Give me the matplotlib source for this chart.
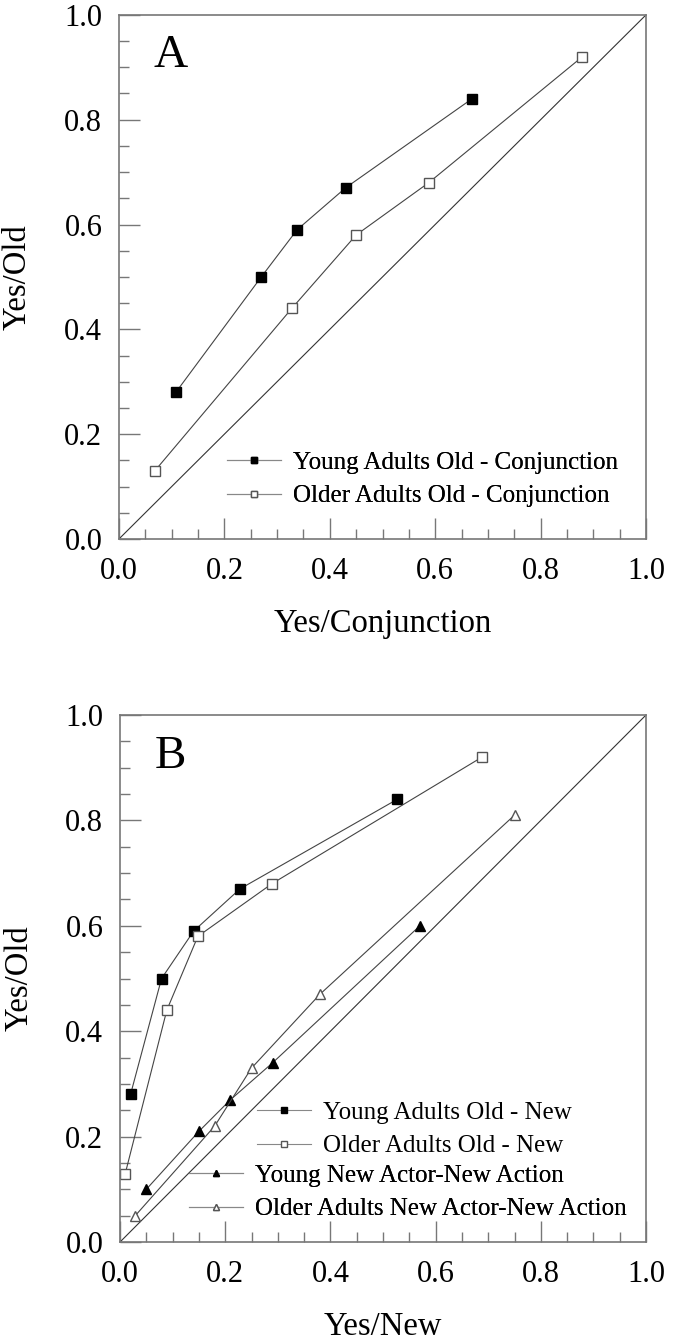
import matplotlib
matplotlib.use("Agg")
import matplotlib.pyplot as plt
from matplotlib.ticker import MultipleLocator


# panel A: Yes/Conjunction vs Yes/Old
young_conj_x = [0.108, 0.27, 0.338, 0.43, 0.67]
young_conj_y = [0.28, 0.50, 0.59, 0.67, 0.84]
older_conj_x = [0.068, 0.328, 0.45, 0.588, 0.879]
older_conj_y = [0.13, 0.44, 0.58, 0.68, 0.92]

# panel B: Yes/New vs Yes/Old
young_new_x = [0.02, 0.079, 0.14, 0.228, 0.527]
young_new_y = [0.28, 0.50, 0.59, 0.67, 0.84]
older_new_x = [0.01, 0.089, 0.148, 0.289, 0.688]
older_new_y = [0.13, 0.44, 0.58, 0.68, 0.92]
young_act_x = [0.05, 0.15, 0.21, 0.29, 0.57]
young_act_y = [0.10, 0.21, 0.27, 0.34, 0.60]
older_act_x = [0.029, 0.18, 0.25, 0.38, 0.75]
older_act_y = [0.05, 0.22, 0.33, 0.47, 0.81]

tick_values = [0.0, 0.2, 0.4, 0.6, 0.8, 1.0]

plt.rcParams["font.family"] = ["Liberation Serif", "DejaVu Serif"]

LINE = "#444444"
SPINE = "#777777"


def style_axes(ax, xlabel, letter):
    ax.set_xlim(0, 1)
    ax.set_ylim(0, 1)
    ax.set_xticks(tick_values)
    ax.set_yticks(tick_values)
    ax.xaxis.set_minor_locator(MultipleLocator(0.05))
    ax.yaxis.set_minor_locator(MultipleLocator(0.05))
    ax.tick_params(which="both", direction="in", color=SPINE, width=1.0,
                   top=False, right=False, labelsize=22)
    ax.tick_params(which="major", length=15)
    ax.tick_params(which="minor", length=7)
    ax.tick_params(axis="x", pad=13)
    ax.tick_params(axis="y", pad=12)
    ax.xaxis.set_major_formatter(lambda v, p: f"{v:.1f}")
    ax.yaxis.set_major_formatter(lambda v, p: f"{v:.1f}")
    for spine in ax.spines.values():
        spine.set_color(SPINE)
        spine.set_linewidth(1.2)

    ax.plot([0, 1], [0, 1], color="#333333", linewidth=0.8)

    ax.set_xlabel(xlabel, fontsize=23.5)
    ax.set_ylabel("Yes/Old", fontsize=23.5)
    ax.xaxis.set_label_coords(0.5, -0.132)
    ax.yaxis.set_label_coords(-0.163, 0.5)

    ax.text(0.066, 0.9, letter, transform=ax.transAxes,
            fontsize=34, va="baseline", ha="left")


def add_legend(ax, handles, anchor):
    leg = ax.legend(
        handles=handles,
        loc="center left",
        bbox_to_anchor=anchor,
        frameon=False,
        fontsize=18,
        handlelength=2.15,
        handletextpad=0.5,
        labelspacing=0.44,
        borderpad=0,
        borderaxespad=0,
        markerscale=0.6,
    )
    for line in leg.get_lines():
        line.set_color("#888888")
    ax.add_artist(leg)
    return leg


def main():

    fig = plt.figure(figsize=(6.77, 13.41), dpi=100)

    ax_a = fig.add_axes([119 / 677, 0.5981, 527 / 677, 0.3908])
    ax_b = fig.add_axes([120 / 677, 0.0738, 526 / 677, 0.393])

    style_axes(ax_a, "Yes/Conjunction", "A")
    style_axes(ax_b, "Yes/New", "B")

    # panel A
    ya, = ax_a.plot(
        young_conj_x, young_conj_y,
        color=LINE, linewidth=0.8,
        marker="s", markersize=6.5,
        markerfacecolor="black", markeredgecolor="black",
        label="Young Adults Old - Conjunction",
    )
    oa, = ax_a.plot(
        older_conj_x, older_conj_y,
        color=LINE, linewidth=0.8,
        marker="s", markersize=6.5,
        markerfacecolor="white", markeredgecolor="#555555",
        label="Older Adults Old - Conjunction",
    )
    add_legend(ax_a, [ya, oa], (0.205, 0.1136))

    # panel B
    yb, = ax_b.plot(
        young_new_x, young_new_y,
        color=LINE, linewidth=0.8,
        marker="s", markersize=6.5,
        markerfacecolor="black", markeredgecolor="black",
        label="Young Adults Old - New",
    )
    ob, = ax_b.plot(
        older_new_x, older_new_y,
        color=LINE, linewidth=0.8,
        marker="s", markersize=6.5,
        markerfacecolor="white", markeredgecolor="#555555",
        label="Older Adults Old - New",
    )
    yt, = ax_b.plot(
        young_act_x, young_act_y,
        color=LINE, linewidth=0.8,
        marker="^", markersize=7,
        markerfacecolor="black", markeredgecolor="black",
        label="Young New Actor-New Action",
    )
    ot, = ax_b.plot(
        older_act_x, older_act_y,
        color=LINE, linewidth=0.8,
        marker="^", markersize=7,
        markerfacecolor="white", markeredgecolor="#555555",
        label="Older Adults New Actor-New Action",
    )
    add_legend(ax_b, [yb, ob], (0.26, 0.214))
    add_legend(ax_b, [yt, ot], (0.131, 0.094))

    fig.savefig("out.png", dpi=100)


if __name__ == "__main__":
    main()
